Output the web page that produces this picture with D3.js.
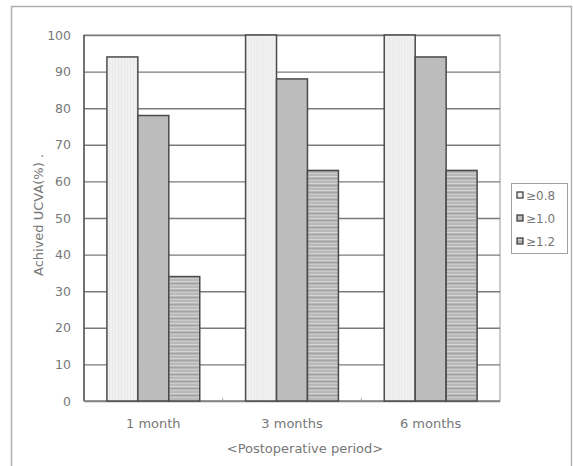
<!DOCTYPE html>
<html>
<head>
<meta charset="utf-8">
<script src="https://cdn.jsdelivr.net/npm/d3@7"></script>
<style>
  body { margin: 0; background: #fff; }
  text { font-family: "DejaVu Sans", sans-serif; fill: #777; }
</style>
</head>
<body>
<div id="chart"></div>
<script>
var categories = ["1 month", "3 months", "6 months"];
var series     = ["≥0.8", "≥1.0", "≥1.2"];
var values08   = [94, 100, 100];
var values10   = [78, 88, 94];
var values12   = [34, 63, 63];
var yTicks     = [0, 10, 20, 30, 40, 50, 60, 70, 80, 90, 100];

var seriesValues = [values08, values10, values12];
var fills = ["url(#dots)", "#bcbcbc", "url(#stripes)"];

var svg = d3.select("#chart").append("svg").attr("width", 573).attr("height", 466);

// patterns for the bar fills
var defs = svg.append("defs");
var dots = defs.append("pattern").attr("id", "dots").attr("patternUnits", "userSpaceOnUse")
               .attr("width", 3).attr("height", 3);
dots.append("rect").attr("width", 3).attr("height", 3).attr("fill", "#f1f1f1");
dots.append("rect").attr("x", 1).attr("width", 1).attr("height", 3).attr("fill", "#e9e9e9");

var stripes = defs.append("pattern").attr("id", "stripes").attr("patternUnits", "userSpaceOnUse")
                  .attr("width", 4).attr("height", 7);
stripes.append("rect").attr("width", 4).attr("height", 7).attr("fill", "#b8b8b8");
stripes.append("rect").attr("y", 1).attr("width", 4).attr("height", 1).attr("fill", "#d4d4d4");
stripes.append("rect").attr("y", 3).attr("width", 4).attr("height", 1).attr("fill", "#a4a4a4");
stripes.append("rect").attr("y", 5).attr("width", 4).attr("height", 1).attr("fill", "#cacaca");

// outer frame
svg.append("rect").attr("x", 11.5).attr("y", 6.5).attr("width", 560).attr("height", 470)
   .attr("fill", "none").attr("stroke", "#b0b0b0").attr("stroke-width", 1.5);

var margin = {left: 84, top: 35, right: 73, bottom: 65};
var width  = 573 - margin.left - margin.right;
var height = 466 - margin.top - margin.bottom;

var g = svg.append("g").attr("transform", "translate(" + margin.left + "," + margin.top + ")");

var y = d3.scaleLinear().domain([0, 100]).range([height, 0]);
var x0 = d3.scaleBand().domain(categories).range([0, width]);
var x1 = d3.scaleBand().domain(series).range([0, x0.bandwidth()]).paddingOuter(0.74);

// plot area border
g.append("rect").attr("width", width).attr("height", height)
 .attr("fill", "none").attr("stroke", "#a8a8a8").attr("stroke-width", 1.2);

// grid + y axis labels
var yAxis = d3.axisLeft(y).tickValues(yTicks).tickSize(-width).tickPadding(13);
var ya = g.append("g").call(yAxis);
ya.select(".domain").remove();
ya.selectAll(".tick line").attr("stroke", "#7a7a7a").attr("stroke-width", 1.4);
ya.selectAll(".tick text").style("font-size", "12.5px").attr("fill", "#777");

// left and bottom axis lines
g.append("line").attr("x1", 0).attr("x2", 0).attr("y1", 0).attr("y2", height)
 .attr("stroke", "#555").attr("stroke-width", 1.5);
g.append("line").attr("x1", 0).attr("x2", width).attr("y1", height).attr("y2", height)
 .attr("stroke", "#8a8a8a").attr("stroke-width", 1.5);

// small category boundary ticks
g.selectAll(".ctick").data(categories.slice(1)).enter().append("line")
 .attr("x1", function(d){ return x0(d); }).attr("x2", function(d){ return x0(d); })
 .attr("y1", height).attr("y2", height - 3)
 .attr("stroke", "#aaa").attr("stroke-width", 1);

// bars
var groups = g.selectAll(".grp").data(categories).enter().append("g")
              .attr("transform", function(d){ return "translate(" + x0(d) + ",0)"; });

groups.selectAll("rect").data(function(d, i){
        return series.map(function(s, j){ return {s: s, j: j, v: seriesValues[j][i]}; });
    }).enter().append("rect")
    .attr("x", function(d){ return x1(d.s); })
    .attr("y", function(d){ return y(d.v); })
    .attr("width", x1.bandwidth())
    .attr("height", function(d){ return height - y(d.v); })
    .attr("fill", function(d){ return fills[d.j]; })
    .attr("stroke", "#4a4a4a").attr("stroke-width", 1.5);

// category labels
g.selectAll(".clabel").data(categories).enter().append("text")
 .attr("x", function(d){ return x0(d) + x0.bandwidth() / 2; })
 .attr("y", height + 27).attr("text-anchor", "middle")
 .style("font-size", "13px").text(function(d){ return d; });

// axis titles
g.append("text").attr("x", width / 2 + 13).attr("y", height + 52).attr("text-anchor", "middle")
 .style("font-size", "13px").text("<Postoperative period>");

svg.append("text").attr("transform", "translate(43," + (margin.top + 180) + ") rotate(-90)")
   .attr("text-anchor", "middle").style("font-size", "13px").text("Achived UCVA(%)  .");

// legend
var legend = svg.append("g").attr("transform", "translate(511,183)");
legend.append("rect").attr("x", 0.5).attr("y", 0.5).attr("width", 56).attr("height", 70)
      .attr("fill", "#fff").attr("stroke", "#a0a0a0").attr("stroke-width", 1);
var items = legend.selectAll(".item").data(series).enter().append("g")
                  .attr("transform", function(d, i){ return "translate(6," + (9 + i * 23) + ")"; });
items.append("rect").attr("width", 6).attr("height", 6)
     .attr("fill", function(d, i){ return fills[i]; })
     .attr("stroke", "#333").attr("stroke-width", 1.2);
items.append("text").attr("x", 9).attr("y", 7.5).style("font-size", "12px").text(function(d){ return d; });
</script>
</body>
</html>
